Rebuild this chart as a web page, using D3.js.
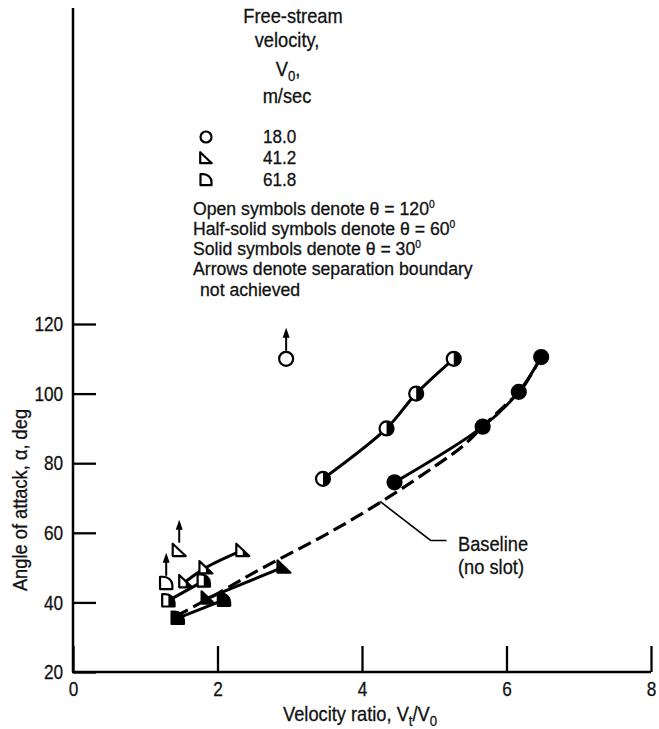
<!DOCTYPE html>
<html>
<head>
<meta charset="utf-8">
<script src="https://cdn.jsdelivr.net/npm/d3@7"></script>
<style>
  html, body { margin: 0; background: #fff; }
  text { font-family: "Liberation Sans", Arial, sans-serif; fill: #111; stroke: #111; stroke-width: 0.3; }
</style>
</head>
<body>
<svg id="chart" width="659" height="729"></svg>
<script>
// ---- data -------------------------------------------------------------
// Free-stream velocity 18.0 m/sec (circles)
const circ120X = [2.95], circ120Y = [110];
const circ60X = [3.46, 4.34, 4.75, 5.27], circ60Y = [75.5, 90, 100, 110];
const circ30X = [4.45, 5.67, 6.17, 6.48], circ30Y = [74.5, 90.5, 100.5, 110.5];
// Free-stream velocity 41.2 m/sec (triangles)
const tri120X = [1.47], tri120Y = [55];
const tri60X = [1.56, 1.84, 2.35], tri60Y = [46, 50, 55];
const tri30X = [1.87, 2.92], tri30Y = [41.3, 50.2];
// Free-stream velocity 61.8 m/sec (quarter-round)
const qr120X = [1.29], qr120Y = [45.5];
const qr60X = [1.32, 1.81], qr60Y = [40.5, 46.2];
const qr30X = [1.45, 2.09], qr30Y = [35.5, 40.7];
// Baseline (no slot)
const baseX = [1.42, 2.0, 2.5, 3.0, 3.5, 4.0, 4.5, 5.0, 5.4, 5.67, 6.0, 6.2, 6.48];
const baseY = [36, 42.5, 48.5, 54, 59.5, 65.5, 72, 79, 85, 90.5, 97, 101, 110.5];

const xTicks = [0, 2, 4, 6, 8];
const yTicks = [20, 40, 60, 80, 100, 120];
const legendVelocities = ["18.0", "41.2", "61.8"];

// ---- setup ------------------------------------------------------------
const svg = d3.select("#chart");
const x = d3.scaleLinear().domain([0, 8]).range([73, 651]);
const y = d3.scaleLinear().domain([20, 120]).range([672, 324]);
const SX = 0.87;       // condensed lettering
const FS = 21;

function label(parent, px, py, parts, opt = {}) {
  const anchor = opt.anchor || "start";
  const size = opt.size || FS;
  const rot = opt.rotate ? ` rotate(${opt.rotate})` : "";
  const t = parent.append("text")
    .attr("transform", `translate(${px},${py})${rot} scale(${opt.sx || SX},1)`)
    .attr("text-anchor", anchor)
    .attr("font-size", size);
  if (typeof parts === "string") parts = [{ t: parts }];
  let shift = 0;
  parts.forEach(p => {
    const ts = t.append("tspan").text(p.t);
    let target = 0;
    if (p.sub) { ts.attr("font-size", size * 0.72); target = 5; }
    if (p.sup) { ts.attr("font-size", size * 0.58); target = -7; }
    if (target !== shift) { ts.attr("dy", target - shift); shift = target; }
  });
  return t;
}

// ---- symbols ----------------------------------------------------------
let clipId = 0;
const defs = svg.append("defs");

function shapePath(kind, cx, cy, s) {
  if (kind === "circle") {
    const p = d3.path(); p.arc(cx, cy, s, 0, 2 * Math.PI); p.closePath(); return p.toString();
  }
  if (kind === "tri") {
    const l = cx - s, r = cx + s, t = cy - s, b = cy + s * 0.9;
    return `M${l},${t}L${l},${b}L${r},${b}Z`;
  }
  // quarter-round: flat left and bottom, rounded top-right
  const l = cx - s * 0.95, r = cx + s * 0.95, t = cy - s, b = cy + s * 0.9;
  const rx = (r - l) * 0.75, ry = (b - t) * 0.7;
  return `M${l},${b}L${l},${t}L${r - rx},${t}A${rx},${ry} 0 0 1 ${r},${t + ry}L${r},${b}Z`;
}

function symbol(g, kind, fill, cx, cy, s) {
  const d = shapePath(kind, cx, cy, s);
  const sg = g.append("g");
  sg.append("path").attr("d", d).attr("fill", fill === "solid" ? "#000" : "#fff");
  if (fill === "half") {
    const id = "hc" + (clipId++);
    defs.append("clipPath").attr("id", id)
      .append("rect").attr("x", cx).attr("y", cy - s - 4).attr("width", s + 4).attr("height", 2 * s + 8);
    sg.append("path").attr("d", d).attr("fill", "#000").attr("clip-path", `url(#${id})`);
  }
  sg.append("path").attr("d", d).attr("fill", "none").attr("stroke", "#000")
    .attr("stroke-width", 2.2).attr("stroke-linejoin", "round");
}

function arrowUp(g, cx, top, len) {
  g.append("line").attr("x1", cx).attr("x2", cx).attr("y1", top).attr("y2", top - len)
    .attr("stroke", "#000").attr("stroke-width", 2);
  g.append("path").attr("d", `M${cx},${top - len - 3}L${cx - 3.5},${top - len + 7}L${cx + 3.5},${top - len + 7}Z`)
    .attr("fill", "#000");
}

// ---- axes -------------------------------------------------------------
const axes = svg.append("g");
axes.append("line").attr("x1", x(0)).attr("x2", x(0)).attr("y1", 8).attr("y2", y(20))
  .attr("stroke", "#000").attr("stroke-width", 2.5);
axes.append("line").attr("x1", x(0) - 1).attr("x2", x(8)).attr("y1", y(20)).attr("y2", y(20))
  .attr("stroke", "#000").attr("stroke-width", 2.5);

const yAxisG = axes.append("g").attr("transform", `translate(${x(0)},0)`)
  .call(d3.axisLeft(y).tickValues(yTicks).tickSize(-23).tickSizeOuter(0).tickPadding(12)
    .tickFormat(d3.format("d")));
const xAxisG = axes.append("g").attr("transform", `translate(0,${y(20)})`)
  .call(d3.axisBottom(x).tickValues(xTicks).tickSize(-26).tickSizeOuter(0).tickPadding(9)
    .tickFormat(d3.format("d")));
[yAxisG, xAxisG].forEach(a => {
  a.select(".domain").remove();
  a.selectAll(".tick line").attr("stroke", "#000").attr("stroke-width", 2.3);
  a.selectAll(".tick text").attr("font-size", FS).attr("fill", "#111")
    .attr("font-family", "'Liberation Sans', Arial, sans-serif")
    .attr("transform", "scale(0.82,1)");
});

label(svg, 27, 500, "Angle of attack, α, deg", { anchor: "middle", rotate: -90 });
label(svg, 283, 721, [{ t: "Velocity ratio,  V" }, { t: "t", sub: true }, { t: "/V" }, { t: "0", sub: true }]);

// ---- curves -----------------------------------------------------------
const plot = svg.append("g");
const line = d3.line().x(d => x(d[0])).y(d => y(d[1])).curve(d3.curveCatmullRom.alpha(0.5));
const pts = (xs, ys) => xs.map((v, i) => [v, ys[i]]);

plot.append("path").attr("d", line(pts(baseX, baseY)))
  .attr("fill", "none").attr("stroke", "#000").attr("stroke-width", 3.2)
  .attr("stroke-dasharray", "14,6");

[[circ60X, circ60Y], [circ30X, circ30Y], [tri60X, tri60Y], [tri30X, tri30Y], [qr60X, qr60Y], [qr30X, qr30Y]]
  .forEach(([xs, ys]) => {
    plot.append("path").attr("d", line(pts(xs, ys)))
      .attr("fill", "none").attr("stroke", "#000").attr("stroke-width", 3);
  });

// baseline callout
plot.append("path")
  .attr("d", `M${x(4.25)},${y(69)}L${x(4.95)},${y(57.8)}H${x(5.17)}`)
  .attr("fill", "none").attr("stroke", "#000").attr("stroke-width", 1.6);
label(svg, 458, 551, "Baseline");
label(svg, 458, 574, "(no slot)");

// ---- markers ----------------------------------------------------------
const series = [
  { xs: circ120X, ys: circ120Y, kind: "circle", fill: "open", arrow: true },
  { xs: circ60X, ys: circ60Y, kind: "circle", fill: "half" },
  { xs: circ30X, ys: circ30Y, kind: "circle", fill: "solid" },
  { xs: tri120X, ys: tri120Y, kind: "tri", fill: "open", arrow: true },
  { xs: tri60X, ys: tri60Y, kind: "tri", fill: "half" },
  { xs: tri30X, ys: tri30Y, kind: "tri", fill: "solid" },
  { xs: qr120X, ys: qr120Y, kind: "qr", fill: "open", arrow: true },
  { xs: qr60X, ys: qr60Y, kind: "qr", fill: "half" },
  { xs: qr30X, ys: qr30Y, kind: "qr", fill: "solid" }
];
series.forEach(sr => {
  sr.xs.forEach((v, i) => {
    const s = sr.kind === "circle" ? 7 : 6.5;
    symbol(plot, sr.kind, sr.fill, x(v), y(sr.ys[i]), s);
    if (sr.arrow) arrowUp(plot, x(v), y(sr.ys[i]) - s - 1, 20);
  });
});

// ---- legend -----------------------------------------------------------
const leg = svg.append("g");
label(leg, 293, 23, "Free-stream", { anchor: "middle" });
label(leg, 287, 47, "velocity,", { anchor: "middle" });
label(leg, 288, 76, [{ t: "V" }, { t: "0", sub: true }, { t: "," }], { anchor: "middle" });
label(leg, 287, 103, "m/sec", { anchor: "middle" });

// note lines: slightly smaller type, widened to keep the same run length
const noteOpt = { size: 19, sx: 0.93 };
const legKinds = ["circle", "tri", "qr"];
const legRows = [137, 158, 180];
legKinds.forEach((k, i) => {
  symbol(leg, k, "open", 206, legRows[i], k === "circle" ? 5.5 : 5.8);
  label(leg, 263, legRows[i] + 5.5, legendVelocities[i], { size: 19, sx: 0.9 });
});
label(leg, 193, 215, [{ t: "Open symbols denote θ = 120" }, { t: "0", sup: true }], noteOpt);
label(leg, 193, 235, [{ t: "Half-solid symbols denote θ = 60" }, { t: "0", sup: true }], noteOpt);
label(leg, 193, 255, [{ t: "Solid symbols denote θ = 30" }, { t: "0", sup: true }], noteOpt);
label(leg, 193, 275, "Arrows denote separation boundary", noteOpt);
label(leg, 200, 296, "not achieved", noteOpt);
</script>
</body>
</html>
